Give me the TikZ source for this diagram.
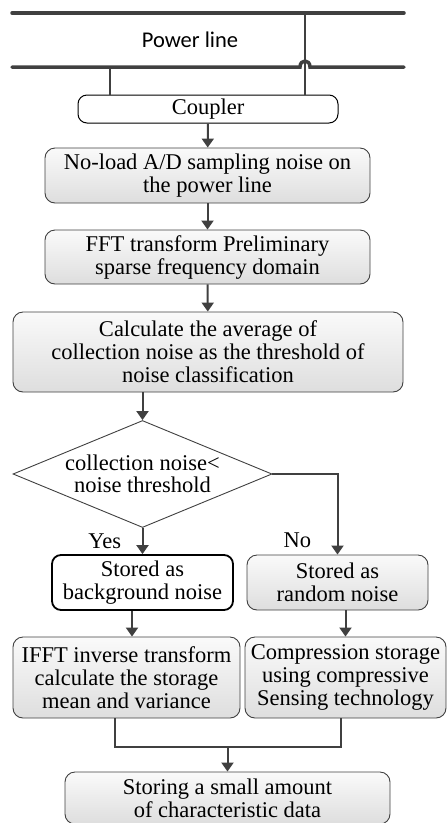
\documentclass[tikz,border=0pt]{standalone}
\usepackage{fontspec}
\setmainfont{Liberation Serif}
\newfontfamily\plfont{Carlito}
\usepackage{xcolor}
\usetikzlibrary{arrows.meta,shapes.geometric}
\definecolor{linegray}{HTML}{404040}

\begin{document}
\begin{tikzpicture}[x=1pt,y=-1pt,>={Triangle[length=9pt,width=12pt]},
    proc/.style={rectangle,rounded corners=10pt,draw=linegray,line width=0.9pt,top color=black!2,bottom color=black!13,align=center,inner sep=0pt,font=\fontsize{22.5}{23}\selectfont},
    plainbox/.style={rectangle,rounded corners=9pt,draw=black,fill=white,align=center,inner sep=0pt,font=\fontsize{22.5}{23}\selectfont},
    decision/.style={diamond,aspect=2.42,draw=linegray,line width=0.9pt,fill=white,align=center,inner sep=-1.5pt,font=\fontsize{22.5}{22}\selectfont},
    flow/.style={->,linegray,line width=2pt},
    branch label/.style={text=black,font=\fontsize{22.5}{23}\selectfont},
    joinline/.style={draw=linegray,line width=2pt},
    power/.style={draw=linegray,line width=3.5pt,line cap=round},
    wire/.style={draw=linegray,line width=1.4pt}]

    \useasboundingbox (0,0) rectangle (447,823);

    \coordinate (topL) at (12,13);
    \coordinate (topR) at (404,13);
    \coordinate (botL) at (12,67);
    \coordinate (botR) at (404,67);
    \coordinate (tapL) at (110,67);
    \coordinate (tapR) at (305,13);

    \node (pl) at (190,40) {\plfont\fontsize{22.5}{27}\selectfont Power line};

    \node[plainbox, line width=1pt, minimum width=260pt, minimum height=28pt] (coupler) at (208,109) {Coupler};
    \node[proc, minimum width=325pt, minimum height=55pt] (noload) at (207.5,175.5) {No-load A/D sampling noise on\\the power line};
    \node[proc, minimum width=325pt, minimum height=54pt] (fft) at (207.5,257) {FFT transform Preliminary\\sparse frequency domain};
    \node[proc, minimum width=390pt, minimum height=80pt] (calc) at (208,352) {Calculate the average of\\collection noise as the threshold of\\noise classification};

    \node[decision, minimum width=259pt, minimum height=107pt] (cmp) at (142.5,474) {collection noise<\\noise threshold};

    \node[plainbox, line width=1.8pt, minimum width=181pt, minimum height=55pt] (bgnoise) at (142.5,582.5) {Stored as\\background noise};
    \node[proc, minimum width=181pt, minimum height=55pt] (rndnoise) at (337.5,582.5) {Stored as\\random noise};

    \node[proc, minimum width=227pt, minimum height=81pt] (ifft) at (126.5,677.5) {IFFT inverse transform\\calculate the storage\\mean and variance};
    \node[proc, minimum width=201pt, minimum height=81pt] (comp) at (345.5,677.5) {Compression storage\\using compressive\\Sensing technology};

    \node[proc, minimum width=325pt, minimum height=52pt] (store) at (227.5,798) {Storing a small amount\\of characteristic data};

    \coordinate (join) at (227.5,747);
    \coordinate (joinL) at (115,747);
    \coordinate (joinR) at (341,747);

    \draw[power] (topL) -- (topR);
    \draw[power] (botL) -- (300,67) .. controls (300,59) and (310,59) .. (310,67) -- (botR);
    \draw[wire] (tapL) -- (tapL |- coupler.north);
    \draw[wire] (tapR) -- (tapR |- coupler.north);

    \path[flow]
        (coupler) edge (noload)
        (noload) edge (fft)
        (fft) edge (calc)
        (cmp |- calc.south) edge (cmp.north)
        (cmp) edge node[branch label, left=17pt]{Yes} (bgnoise)
        ([xshift=-10.5pt]bgnoise.south) edge ([xshift=-10.5pt]bgnoise.south |- ifft.north)
        (rndnoise.south -| comp.north) edge (comp.north)
        ;

    \draw[flow] (cmp.east) -| node[branch label, pos=0.91, left=22pt]{No} (rndnoise.north);
    \draw[joinline] (joinL |- ifft.south) -- (joinL) -- (joinR) -- (joinR |- comp.south);
    \draw[flow] (join) -- (store.north);
\end{tikzpicture}
\end{document}
